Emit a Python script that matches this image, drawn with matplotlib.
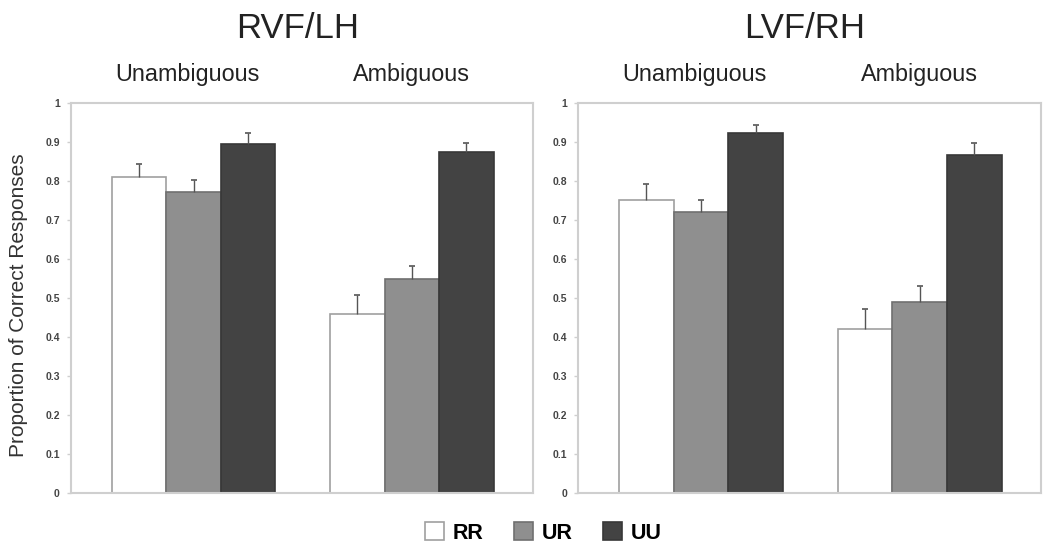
import numpy as np
import matplotlib.pyplot as plt

plt.rcParams['font.family'] = ['Liberation Sans', 'DejaVu Sans']

conditions = ["RR", "UR", "UU"]
groups = ["Unambiguous", "Ambiguous"]
panels = ["RVF/LH", "LVF/RH"]

# values per condition -> (unambiguous, ambiguous)
rvf_means = {"RR": [0.811, 0.458], "UR": [0.772, 0.549], "UU": [0.895, 0.875]}
rvf_err = {"RR": [0.033, 0.051], "UR": [0.030, 0.032], "UU": [0.029, 0.022]}
lvf_means = {"RR": [0.751, 0.421], "UR": [0.721, 0.491], "UU": [0.924, 0.868]}
lvf_err = {"RR": [0.042, 0.050], "UR": [0.030, 0.040], "UU": [0.020, 0.029]}

face = {"RR": "#ffffff", "UR": "#8f8f8f", "UU": "#434343"}
edge = {"RR": "#a0a0a0", "UR": "#707070", "UU": "#383838"}

fig = plt.figure(figsize=(10.5, 5.53), dpi=100)
ax_l = fig.add_axes([0.0676, 0.1085, 0.440, 0.7052])
ax_r = fig.add_axes([0.5505, 0.1085, 0.441, 0.7052])

x = np.arange(len(groups))
w = 0.25
handles = []
for ax, title, means, errs in [(ax_l, panels[0], rvf_means, rvf_err),
                                (ax_r, panels[1], lvf_means, lvf_err)]:
    for i, c in enumerate(conditions):
        m = np.array(means[c])
        e = np.array(errs[c])
        xp = x + (i - 1) * w
        b = ax.bar(xp, m, w, color=face[c], edgecolor=edge[c],
                   linewidth=1.2, label=c, zorder=2)
        # upper half of the error bar only, with a cap on top
        ax.vlines(xp, m, m + e, color="#555555", linewidth=1.0, zorder=3)
        ax.plot(xp, m + e, linestyle="none", marker="_", markersize=5,
                markeredgewidth=1.2, color="#555555", zorder=3)
        if ax is ax_l:
            handles.append(b)
    ax.set_xlim(-0.563, 1.556)
    ax.set_ylim(0, 1)
    ax.set_yticks(np.arange(0, 1.01, 0.1))
    ax.set_yticklabels(["0"] + ["%.1f" % v for v in np.arange(0.1, 0.95, 0.1)] + ["1"],
                       fontsize=7.5, fontweight="bold", color="#444444")
    ax.set_xticks([])
    for s in ax.spines.values():
        s.set_color("#cfcfcf")
        s.set_linewidth(1.5)
    ax.tick_params(axis="y", length=3, width=1, color="#cfcfcf", pad=5)
    ax.text(0.49, 1.19, title, transform=ax.transAxes, ha="center", va="center",
            fontsize=25, color="#222222")
    for xi, g in zip(x, groups):
        ax.text(xi - 0.03 * (xi == 0), 1.074, g, transform=ax.get_xaxis_transform(),
                ha="center", va="center", fontsize=16.8, color="#222222")

ax_l.set_ylabel("Proportion of Correct Responses", fontsize=15, color="#333333")
ax_l.yaxis.set_label_coords(-0.092, 0.482)

fig.legend(handles, conditions, loc="center", bbox_to_anchor=(0.5176, 0.036), ncol=3,
           frameon=False, prop=dict(size=15.5, weight="bold"),
           handlelength=0.9, handleheight=0.9, handletextpad=0.4, columnspacing=1.4)

fig.savefig("out.png", dpi=100)
